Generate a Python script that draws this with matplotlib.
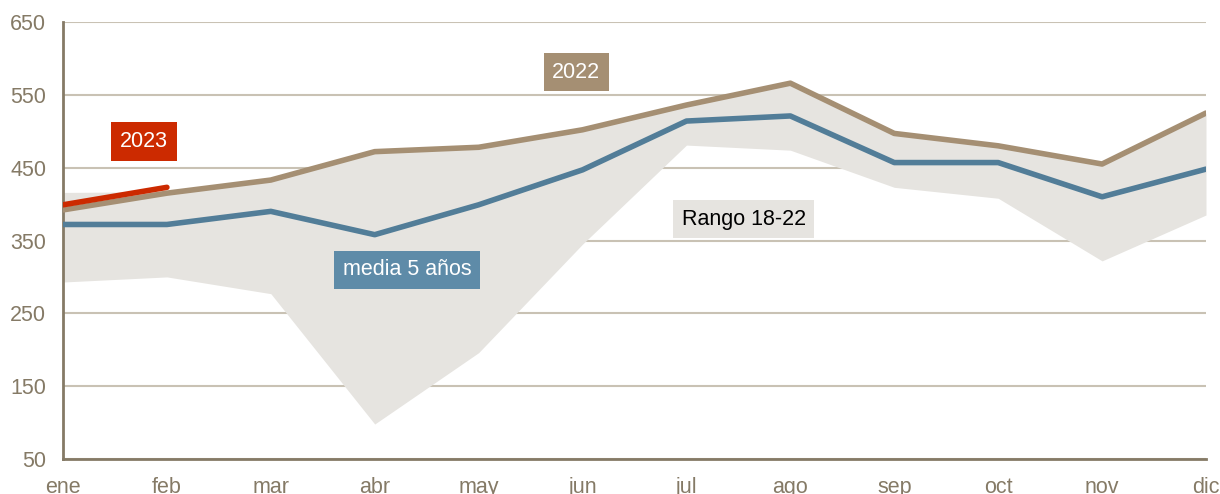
import matplotlib.pyplot as plt

months = ["ene", "feb", "mar", "abr", "may", "jun", "jul", "ago", "sep", "oct", "nov", "dic"]
y2022 = [392, 415, 433, 472, 478, 502, 536, 566, 497, 480, 455, 525]
media5 = [372, 372, 390, 358, 399, 447, 514, 521, 457, 457, 410, 448]
y2023 = [399, 423]
rango_max = [416, 417, 433, 472, 478, 502, 536, 566, 497, 480, 455, 525]
rango_min = [293, 300, 277, 98, 196, 345, 481, 474, 423, 408, 322, 385]

plt.rcParams['font.family'] = ['Liberation Sans', 'DejaVu Sans']

c_brown = "#a58f73"
c_blue = "#527d98"
c_red = "#cc2a00"
c_band = "#e6e4e0"
c_axis = "#857a66"
c_grid = "#c9c2b4"

fig = plt.figure(figsize=(12.2, 4.94), dpi=100)
ax = fig.add_axes([63 / 1220, 35 / 494, 1143 / 1220, 437 / 494])

x = list(range(len(months)))
ax.fill_between(x, rango_min, rango_max, color=c_band, lw=0, zorder=1)
ax.plot(x, y2022, color=c_brown, lw=4, solid_capstyle="round", zorder=3)
ax.plot(x, media5, color=c_blue, lw=4, solid_capstyle="round", zorder=3)
ax.plot(x[:len(y2023)], y2023, color=c_red, lw=4, solid_capstyle="round", zorder=4)

ax.set_xlim(0, 11)
ax.set_ylim(50, 650)
ax.set_yticks([50, 150, 250, 350, 450, 550, 650])
ax.set_xticks(x)
ax.set_xticklabels(months)
ax.yaxis.grid(True, color=c_grid, lw=1.5, zorder=0)
ax.set_axisbelow(True)
ax.tick_params(length=0, labelsize=15.5, labelcolor=c_axis)
ax.tick_params(axis="x", pad=13)
ax.tick_params(axis="y", pad=12)
for s in ["top", "right"]:
    ax.spines[s].set_visible(False)
for s in ["left", "bottom"]:
    ax.spines[s].set_color(c_axis)
    ax.spines[s].set_linewidth(2)

def label(xv, yv, txt, fc, tc="white"):
    ax.text(xv, yv, txt, color=tc, fontsize=15.5, ha="center", va="center", zorder=5,
            bbox=dict(boxstyle="square,pad=0.4", fc=fc, ec="none"))

label(0.78, 486, "2023", c_red)
label(4.94, 581, "2022", c_brown)
label(3.31, 310, "media 5 años", "#5e8ba8")
label(6.55, 379, "Rango 18-22", c_band, "black")

fig.savefig("out.png", dpi=100)
